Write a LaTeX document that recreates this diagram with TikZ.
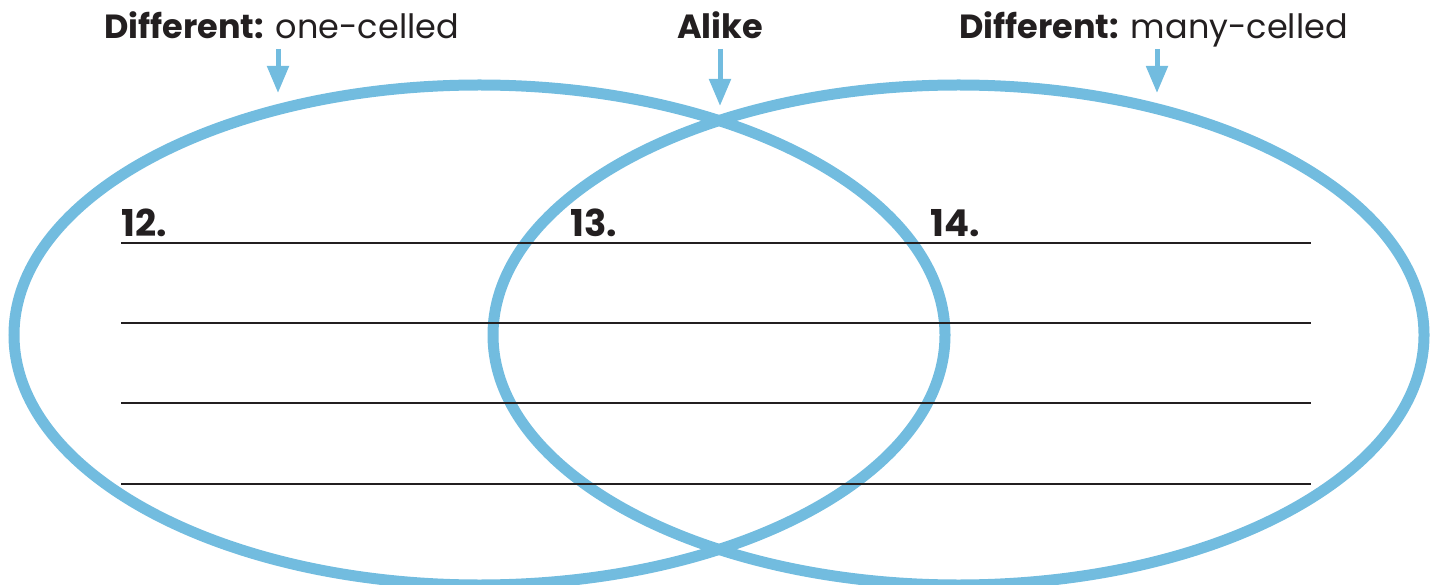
\documentclass[tikz,border=0pt]{standalone}
\usepackage{fontspec}
\setmainfont{Poppins}
\usetikzlibrary{arrows.meta}
\definecolor{vennblue}{HTML}{72BCDF}
\definecolor{ink}{HTML}{231F20}
\tikzset{
  venn/.style={draw=vennblue, line width=11pt},
  writeline/.style={draw=ink, line width=1.8pt},
  pointer/.style={draw=vennblue, line width=5pt, -{Triangle[width=21pt,length=27pt]}},
  heading/.style={inner sep=0pt, text=ink, font=\fontsize{33.5}{40}\selectfont},
  number/.style={inner sep=0pt, text=ink, font=\fontsize{37}{44}\selectfont\bfseries}
}
\begin{document}
\begin{tikzpicture}[x=1pt,y=-1pt]
\useasboundingbox (0,0) rectangle (1440,585);
% ellipses
\coordinate (cl) at (479.5,335);
\coordinate (cr) at (958.5,335);
\draw[venn] (cl) ellipse [x radius=465.5, y radius=250];
\draw[venn] (cr) ellipse [x radius=465.5, y radius=250];
% writing lines
\foreach \y/\n in {243/a,323/b,403/c,484/d}{
  \coordinate (l\n) at (121,\y);
  \coordinate (r\n) at (1311,\y);
  \draw[writeline] (l\n) -- (r\n);
}
% numbers
\node[number, anchor=base west] (n12) at (121,237) {12.};
\node[number, anchor=base west] (n13) at (570,237) {13.};
\node[number, anchor=base west] (n14) at (930,237) {14.};
% headings
\node[heading, anchor=base west] (hl) at (104,39) {\textbf{Different:} one-celled};
\node[heading, anchor=base] (hm) at (720,39) {\textbf{Alike}};
\node[heading, anchor=base east] (hr) at (1348,39) {\textbf{Different:} many-celled};
% pointers
\coordinate (pl1) at (278,49); \coordinate (pl2) at (278,93);
\coordinate (pm1) at (720,49); \coordinate (pm2) at (720,106);
\coordinate (pr1) at (1157,49); \coordinate (pr2) at (1157,93);
\draw[pointer] (pl1) -- (pl2);
\draw[pointer] (pm1) -- (pm2);
\draw[pointer] (pr1) -- (pr2);
\end{tikzpicture}
\end{document}
